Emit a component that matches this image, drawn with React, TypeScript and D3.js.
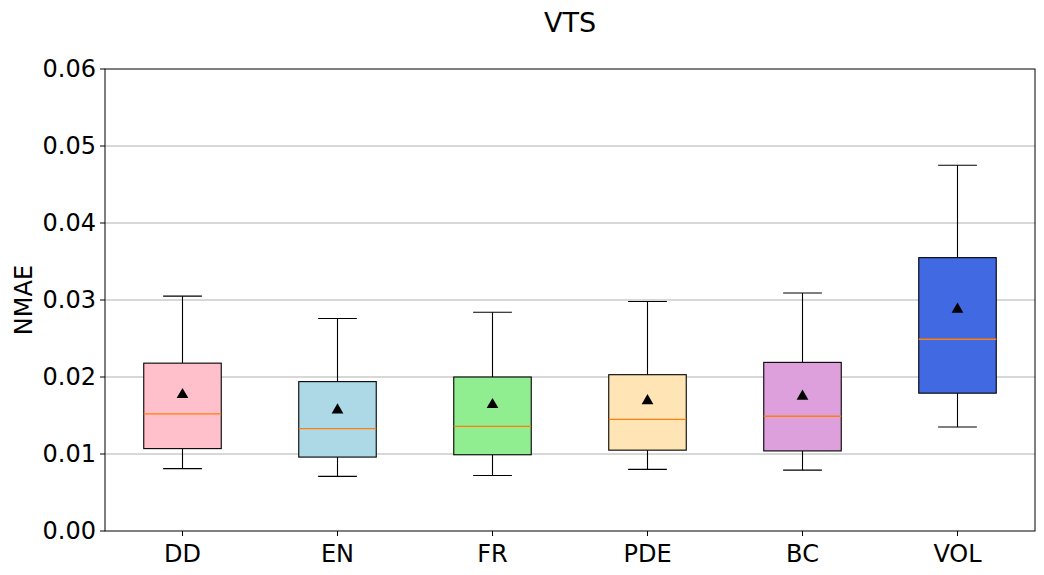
import React from 'react';
import * as d3 from 'd3';

const categories = ['DD', 'EN', 'FR', 'PDE', 'BC', 'VOL'];
const whiskerLow = [0.0081, 0.0071, 0.0072, 0.0080, 0.0079, 0.0135];
const q1 = [0.0107, 0.0096, 0.0099, 0.0105, 0.0104, 0.0179];
const median = [0.0152, 0.0133, 0.0136, 0.0145, 0.0149, 0.0249];
const q3 = [0.0218, 0.0194, 0.0200, 0.0203, 0.0219, 0.0355];
const whiskerHigh = [0.0305, 0.0276, 0.0284, 0.0298, 0.0309, 0.0475];
const means = [0.0177, 0.0157, 0.0164, 0.0169, 0.0175, 0.0288];
const boxColors = ['#ffc0cb', '#add8e6', '#90ee90', '#ffe4b5', '#dda0dd', '#4169e1'];
const yTicks = [0, 0.01, 0.02, 0.03, 0.04, 0.05, 0.06];

const W = 1044;
const H = 575;
const margin = { top: 69, right: 9, bottom: 44, left: 105 };
const FONT = 'DejaVu Sans, sans-serif';

export default function App() {
  const iw = W - margin.left - margin.right;
  const ih = H - margin.top - margin.bottom;

  const x = d3.scaleLinear().domain([0.5, categories.length + 0.5]).range([0, iw]);
  const y = d3.scaleLinear().domain([0, 0.06]).range([ih, 0]);
  const boxW = x(1.25) - x(1);
  const capW = x(1.125) - x(1);
  const tri = d3.symbol().type(d3.symbolTriangle).size(60)();

  return (
    <svg width={W} height={H} style={{ position: 'fixed', left: 0, top: 0 }} fontFamily={FONT}>
      <rect width={W} height={H} fill="#fff" />
      <text x={margin.left + iw / 2} y={32} textAnchor="middle" fontSize={27}>VTS</text>
      <g transform={`translate(${margin.left},${margin.top})`}>
        {/* grid */}
        {yTicks.slice(1, -1).map(t => (
          <line key={t} x1={0} x2={iw} y1={y(t)} y2={y(t)} stroke="#b0b0b0" strokeWidth={1} />
        ))}
        {/* boxes */}
        {categories.map((c, i) => {
          const cx = x(i + 1);
          return (
            <g key={c}>
              <line x1={cx} x2={cx} y1={y(q3[i])} y2={y(whiskerHigh[i])} stroke="#000" strokeWidth={1.1} />
              <line x1={cx} x2={cx} y1={y(q1[i])} y2={y(whiskerLow[i])} stroke="#000" strokeWidth={1.1} />
              <line x1={cx - capW} x2={cx + capW} y1={y(whiskerHigh[i])} y2={y(whiskerHigh[i])} stroke="#000" strokeWidth={1.1} />
              <line x1={cx - capW} x2={cx + capW} y1={y(whiskerLow[i])} y2={y(whiskerLow[i])} stroke="#000" strokeWidth={1.1} />
              <rect x={cx - boxW} y={y(q3[i])} width={boxW * 2} height={y(q1[i]) - y(q3[i])}
                fill={boxColors[i]} stroke="#000" strokeWidth={1.1} />
              <line x1={cx - boxW} x2={cx + boxW} y1={y(median[i])} y2={y(median[i])} stroke="#ff7f0e" strokeWidth={1.3} />
              <path d={tri} transform={`translate(${cx},${y(means[i])})`} fill="#000" />
            </g>
          );
        })}
        {/* frame */}
        <rect x={0} y={0} width={iw} height={ih} fill="none" stroke="#000" strokeWidth={1} />
        {/* y axis */}
        {yTicks.map(t => (
          <g key={t} transform={`translate(0,${y(t)})`}>
            <line x1={-5} x2={0} stroke="#000" />
            <text x={-9} dy="0.35em" textAnchor="end" fontSize={24}>{d3.format('.2f')(t)}</text>
          </g>
        ))}
        {/* x axis */}
        {categories.map((c, i) => (
          <g key={c} transform={`translate(${x(i + 1)},${ih})`}>
            <line y1={0} y2={5} stroke="#000" />
            <text y={31} textAnchor="middle" fontSize={24}>{c}</text>
          </g>
        ))}
        <text transform={`translate(${-73},${ih / 2}) rotate(-90)`} textAnchor="middle" fontSize={24}>NMAE</text>
      </g>
    </svg>
  );
}
